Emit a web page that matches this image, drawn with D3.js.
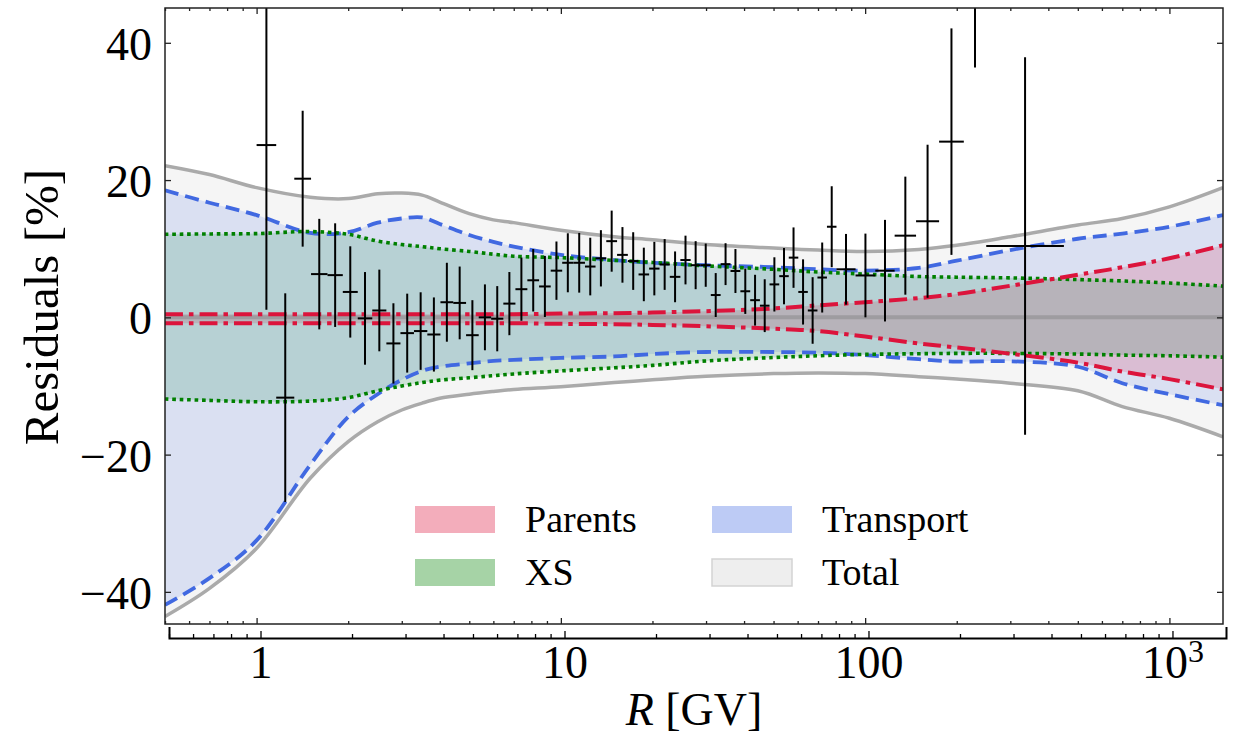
<!DOCTYPE html>
<html>
<head>
<meta charset="utf-8">
<script src="https://cdn.jsdelivr.net/npm/d3@7"></script>
<style>
  body { margin: 0; background: #fff; }
  text { font-family: "Liberation Serif", "DejaVu Serif", serif; fill: #000; }
</style>
</head>
<body>
<div id="chart"></div>
<script>
// rigidity bin edges [GV] of the data points
var binEdges = [1.00, 1.16, 1.33, 1.51, 1.71, 1.92, 2.15, 2.40, 2.67, 2.97, 3.29, 3.64, 4.02,
  4.43, 4.88, 5.37, 5.90, 6.47, 7.09, 7.76, 8.48, 9.26, 10.1, 11.0, 12.0, 13.0, 14.1, 15.3,
  16.6, 18.0, 19.5, 21.1, 22.8, 24.7, 26.7, 28.8, 31.1, 33.5, 36.1, 38.9, 41.9, 45.1, 48.5,
  52.2, 56.1, 60.3, 64.8, 69.7, 74.9, 80.5, 93.0, 108, 125, 147, 175, 211, 250, 450];

// residuals [%] and their errors, one per bin
var residual = [25.1, -11.7, 20.2, 6.3, 6.15, 3.7, -0.15, 1.0, -3.8, -2.3, -2.0, -2.5, 2.2, 2.1,
  -2.6, 0.0, -0.2, 2.0, 4.1, 5.4, 4.5, 6.8, 7.95, 7.95, 7.4, 8.6, 11.1, 9.1, 8.2, 6.25, 7.1,
  7.7, 5.9, 8.35, 7.6, 7.6, 3.25, 7.75, 6.75, 3.8, 2.5, 1.7, 4.8, 6.0, 8.7, 3.7, 1.0, 5.8,
  13.2, 7.0, 6.1, 6.8, 11.9, 14.0, 25.6, 55, 10.4];
var resErr = [24.0, 15.2, 9.9, 8.05, 7.55, 6.65, 6.75, 5.95, 5.85, 5.75, 5.65, 5.4, 5.75, 5.3,
  5.1, 4.8, 4.75, 4.6, 4.6, 4.55, 4.45, 4.25, 4.3, 4.35, 4.2, 4.1, 4.45, 4.05, 4.2, 3.9, 3.9,
  3.7, 3.7, 3.55, 3.5, 3.15, 3.2, 3.05, 3.2, 3.3, 3.7, 3.85, 3.95, 4.1, 4.4, 4.75, 4.85, 5.1,
  5.9, 5.15, 6.1, 7.4, 8.6, 11.15, 16.5, 18.6, 27.5];

// uncertainty bands, sampled on a rigidity grid
var bandR = [0.5, 0.7, 1, 1.5, 2, 2.5, 3, 3.5, 4, 5, 6, 7, 10, 15, 20, 30, 50, 70, 100, 150,
  200, 300, 500, 700, 1000, 1500];
var totalUp = [22.1, 20.8, 18.9, 17.5, 17.3, 18.0, 18.1, 17.8, 16.8, 15.1, 14.2, 13.8, 12.7,
  11.75, 11.3, 10.6, 10.1, 9.8, 9.6, 9.9, 10.5, 11.75, 13.45, 14.4, 16.1, 18.9];
var totalLo = [-43.6, -39.5, -33.65, -23.45, -18.1, -15.2, -13.5, -12.5, -11.8, -11.2, -10.8,
  -10.5, -10.1, -9.5, -9.1, -8.6, -8.2, -8.1, -8.2, -8.65, -9.0, -9.6, -10.7, -13.0, -14.7, -17.4];
var transUp = [18.5, 16.7, 14.9, 12.3, 12.4, 13.8, 14.4, 14.55, 13.6, 12.0, 11.0, 10.3, 9.1,
  8.35, 7.95, 7.6, 7.3, 7.0, 6.8, 7.2, 8.25, 9.8, 11.45, 12.2, 13.2, 14.9];
var transLo = [-41.9, -38.0, -32.5, -21.5, -14.5, -11.2, -9.1, -7.8, -7.2, -6.7, -6.35, -6.2,
  -5.9, -5.7, -5.35, -5.05, -5.05, -5.15, -5.5, -6.1, -6.45, -6.4, -7.2, -9.6, -11.2, -12.8];
var xsUp = [12.1, 12.15, 12.2, 12.5, 12.1, 11.1, 10.6, 10.3, 10.0, 9.6, 9.2, 8.9, 8.7, 8.3,
  8.0, 7.5, 7.0, 6.6, 6.3, 5.95, 5.85, 5.75, 5.5, 5.3, 5.0, 4.55];
var xsLo = [-11.9, -12.1, -12.3, -12.2, -11.7, -10.7, -10.0, -9.5, -9.15, -8.8, -8.5, -8.25,
  -7.8, -7.35, -7.0, -6.35, -5.85, -5.6, -5.4, -5.3, -5.25, -5.25, -5.35, -5.5, -5.6, -5.8];
var parUp = [0.45, 0.45, 0.45, 0.45, 0.45, 0.45, 0.45, 0.45, 0.45, 0.45, 0.45, 0.45, 0.55,
  0.6, 0.7, 0.9, 1.3, 1.75, 2.2, 2.8, 3.4, 4.6, 6.2, 7.3, 8.6, 10.5];
var parLo = [-0.85, -0.85, -0.85, -0.85, -0.85, -0.85, -0.85, -0.85, -0.85, -0.85, -0.85,
  -0.85, -0.95, -1.0, -1.1, -1.3, -1.65, -2.0, -2.8, -3.8, -4.4, -5.3, -6.6, -7.9, -9.0, -10.5];

var legendNames = ["Parents", "XS", "Transport", "Total"];

var svgWidth = 1242;
var svgHeight = 740;
var margin = {top: 8, right: 19, bottom: 116, left: 165};
var width = svgWidth - margin.left - margin.right;
var height = svgHeight - margin.top - margin.bottom;

var svg = d3.select("#chart")
  .append("svg")
  .attr("width", svgWidth)
  .attr("height", svgHeight);

var chartGroup = svg.append("g")
  .attr("transform", `translate(${margin.left}, ${margin.top})`);

var x = d3.scaleLog().domain([0.5, 1500]).range([0, width]);
var y = d3.scaleLinear().domain([-44.68, 45.07]).range([height, 0]);

chartGroup.append("clipPath").attr("id", "plotClip")
  .append("rect").attr("width", width).attr("height", height);

var plot = chartGroup.append("g").attr("clip-path", "url(#plotClip)");

var smooth = d3.curveCatmullRom.alpha(0.5);

function bandArea(lo, up) {
  return d3.area()
    .x((d, i) => x(bandR[i]))
    .y0((d, i) => y(lo[i]))
    .y1((d, i) => y(up[i]))
    .curve(smooth);
}
function bandLine(vals) {
  return d3.line()
    .x((d, i) => x(bandR[i]))
    .y((d, i) => y(vals[i]))
    .curve(smooth);
}

// filled bands
plot.append("path").datum(bandR).attr("d", bandArea(totalLo, totalUp)).attr("fill", "#f5f5f5");
plot.append("path").datum(bandR).attr("d", bandArea(transLo, transUp))
  .attr("fill", "royalblue").attr("fill-opacity", 0.15);
plot.append("path").datum(bandR).attr("d", bandArea(parLo, parUp))
  .attr("fill", "crimson").attr("fill-opacity", 0.17);
plot.append("path").datum(bandR).attr("d", bandArea(xsLo, xsUp))
  .attr("fill", "#00803a").attr("fill-opacity", 0.16);

// zero line
plot.append("line")
  .attr("x1", 0).attr("x2", width)
  .attr("y1", y(0)).attr("y2", y(0))
  .attr("stroke", "grey").attr("stroke-opacity", 0.45).attr("stroke-width", 4);

// band edges
var edgeStyles = [
  {lo: totalLo, up: totalUp, color: "#aaaaaa", dash: null, w: 3.5},
  {lo: transLo, up: transUp, color: "royalblue", dash: "14,7", w: 3.8},
  {lo: xsLo, up: xsUp, color: "green", dash: "3.6,3.8", w: 3.6},
  {lo: parLo, up: parUp, color: "crimson", dash: "18,6,4.5,6", w: 4}
];
edgeStyles.forEach(function(s) {
  [s.lo, s.up].forEach(function(vals) {
    plot.append("path").datum(bandR)
      .attr("d", bandLine(vals))
      .attr("fill", "none")
      .attr("stroke", s.color)
      .attr("stroke-width", s.w)
      .attr("stroke-dasharray", s.dash);
  });
});

// data points with error bars
var points = residual.map(function(v, i) {
  return {lo: binEdges[i], hi: binEdges[i + 1], r: Math.sqrt(binEdges[i] * binEdges[i + 1]),
    v: v, e: resErr[i]};
});
var pts = plot.append("g").attr("stroke", "#000").attr("stroke-width", 2);
pts.selectAll(".ybar").data(points).enter().append("line")
  .attr("x1", d => x(d.r)).attr("x2", d => x(d.r))
  .attr("y1", d => y(d.v - d.e)).attr("y2", d => y(d.v + d.e));
pts.selectAll(".xbar").data(points).enter().append("line")
  .attr("x1", d => x(d.lo)).attr("x2", d => x(d.hi))
  .attr("y1", d => y(d.v)).attr("y2", d => y(d.v));

// frame ticks (inward on all sides)
var allTicks = x.ticks();
var majorX = allTicks.filter(t => Math.abs(Math.log10(t) - Math.round(Math.log10(t))) < 1e-9);
var minorX = allTicks.filter(t => majorX.indexOf(t) < 0);
var yTicks = [-40, -20, 0, 20, 40];

function frameTicks(axis, tr) {
  chartGroup.append("g").attr("transform", tr).call(axis)
    .call(g => g.select(".domain").remove())
    .call(g => g.selectAll("text").remove())
    .call(g => g.selectAll("line").attr("stroke", "#222").attr("stroke-width", 1.3));
}
frameTicks(d3.axisTop(x).tickValues(majorX).tickSize(6), `translate(0,${height})`);
frameTicks(d3.axisTop(x).tickValues(minorX).tickSize(3), `translate(0,${height})`);
frameTicks(d3.axisBottom(x).tickValues(majorX).tickSize(6), "translate(0,0)");
frameTicks(d3.axisBottom(x).tickValues(minorX).tickSize(3), "translate(0,0)");
frameTicks(d3.axisRight(y).tickValues(yTicks).tickSize(6), "translate(0,0)");
frameTicks(d3.axisLeft(y).tickValues(yTicks).tickSize(6), `translate(${width},0)`);

chartGroup.append("rect")
  .attr("width", width).attr("height", height)
  .attr("fill", "none").attr("stroke", "#222").attr("stroke-width", 1.5);

// y tick labels
chartGroup.append("g")
  .call(d3.axisLeft(y).tickValues(yTicks).tickSize(0).tickPadding(13))
  .call(g => g.select(".domain").remove())
  .call(g => g.selectAll("text").attr("dy", "0.36em").style("font-size", "46px")
    .style("font-family", '"Liberation Serif", serif'));

// separate x axis below the frame
var x2 = d3.scaleLog().domain([0.5, 1500]).range([4, width + 3]);
chartGroup.append("g")
  .attr("transform", `translate(0,${height + 14})`)
  .call(d3.axisBottom(x2).tickValues(minorX).tickSizeInner(-4).tickSizeOuter(-11).tickFormat(""))
  .call(g => g.selectAll("line").attr("stroke-width", 1.3))
  .call(g => g.select(".domain").attr("stroke-width", 2));

var xAxis = chartGroup.append("g")
  .attr("transform", `translate(0,${height + 14})`)
  .call(d3.axisBottom(x2).tickValues(majorX).tickSizeInner(-7).tickSizeOuter(0).tickPadding(0)
    .tickFormat(""))
  .call(g => g.select(".domain").remove())
  .call(g => g.selectAll("line").attr("stroke-width", 1.3));

xAxis.selectAll(".tick").append("text")
  .attr("y", 40)
  .attr("text-anchor", "middle")
  .style("font-size", "46px")
  .each(function(d) {
    var t = d3.select(this);
    if (d >= 1000) {
      t.append("tspan").text("10");
      t.append("tspan").attr("dy", "-0.5em").style("font-size", "32px")
        .text(Math.round(Math.log10(d)));
    } else {
      t.text(d3.format("d")(d));
    }
  });

// axis titles
var xTitle = chartGroup.append("text")
  .attr("x", width / 2)
  .attr("y", height + 101)
  .attr("text-anchor", "middle")
  .style("font-size", "46px");
xTitle.append("tspan").style("font-style", "italic").text("R");
xTitle.append("tspan").text(" [GV]");

chartGroup.append("text")
  .attr("transform", `translate(${58 - margin.left}, ${299}) rotate(-90)`)
  .attr("text-anchor", "middle")
  .style("font-size", "49px")
  .text("Residuals [%]");

// legend
var legendFill = [
  {fill: "crimson", op: 0.35, stroke: "none"},
  {fill: "green", op: 0.35, stroke: "none"},
  {fill: "royalblue", op: 0.35, stroke: "none"},
  {fill: "#eeeeee", op: 1, stroke: "#d3d3d3"}
];
var legend = svg.append("g").attr("transform", "translate(415,506)");
legendNames.forEach(function(name, i) {
  var col = Math.floor(i / 2), row = i % 2;
  var item = legend.append("g").attr("transform", `translate(${col * 297},${row * 53})`);
  item.append("rect")
    .attr("width", 80).attr("height", 27)
    .attr("fill", legendFill[i].fill)
    .attr("fill-opacity", legendFill[i].op)
    .attr("stroke", legendFill[i].stroke)
    .attr("stroke-width", 1.5);
  item.append("text")
    .attr("x", 110)
    .attr("y", 26)
    .style("font-size", "38px")
    .text(name);
});
</script>
</body>
</html>
